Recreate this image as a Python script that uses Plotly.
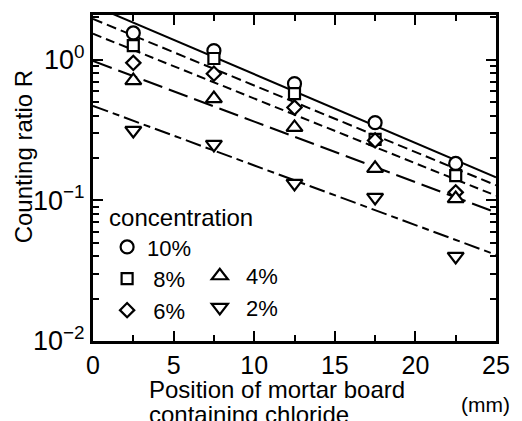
import plotly.graph_objects as go

# ---- data ----
positions = [2.5, 7.5, 12.5, 17.5, 22.5]          # mm
labels = ["10%", "\u00a08%", "\u00a06%", "\u00a04%", "\u00a02%"]
r_10 = [1.55, 1.16, 0.676, 0.357, 0.183]
r_8 = [1.26, 1.02, 0.574, 0.271, 0.150]
r_6 = [0.95, 0.796, 0.457, 0.267, 0.114]
r_4 = [0.71, 0.529, 0.330, 0.169, 0.103]
r_2 = [0.314, 0.250, 0.132, 0.105, 0.040]

# fitted lines: value at x = 0 mm and x = 25 mm
fit_x = [0, 25]
fit_10 = [2.43, 0.146]
fit_8 = [1.95, 0.128]
fit_6 = [1.53, 0.108]
fit_4 = [0.98, 0.082]
fit_2 = [0.47, 0.041]

x_ticks = [0, 5, 10, 15, 20, 25]
x_minor = [2.5, 7.5, 12.5, 17.5, 22.5]
y_ticks = [0.01, 0.1, 1]
y_ticktext = ["10<sup>\u22122</sup>", "10<sup>\u22121</sup>", "10<sup>0</sup>"]
y_minor = [m * 10 ** e for e in (-2, -1, 0) for m in range(2, 10)]

FONT = "Liberation Sans, Arial, Helvetica, sans-serif"

series = [
    (labels[0], r_10, fit_10, "circle", 13, "solid", "legend"),
    (labels[1], r_8, fit_8, "square", 11, "10px,5px", "legend"),
    (labels[2], r_6, fit_6, "diamond", 11, "9px,5px", "legend"),
    (labels[3], r_4, fit_4, "triangle-up", 14, "20px,7px", "legend2"),
    (labels[4], r_2, fit_2, "triangle-down", 14, "16px,5px,7px,5px", "legend2"),
]

fig = go.Figure()
for name, vals, fit, sym, size, dash, lg in series:
    fig.add_trace(go.Scatter(
        x=fit_x, y=fit, mode="lines", showlegend=False, hoverinfo="skip",
        line=dict(color="black", width=2, dash=dash)))
for name, vals, fit, sym, size, dash, lg in series:
    fig.add_trace(go.Scatter(
        x=positions, y=vals, mode="markers", name=name, legend=lg,
        marker=dict(symbol=sym, size=size, color="white",
                    line=dict(color="black", width=2.2))))

axis_common = dict(
    showgrid=False, zeroline=False, showline=True, linecolor="black",
    linewidth=3, mirror="ticks", ticks="inside", tickcolor="black",
    tickwidth=2, ticklen=10,
)

fig.update_xaxes(range=[0, 25], tickmode="array", tickvals=x_ticks,
                 tickfont=dict(family=FONT, size=25, color="black"),
                 minor=dict(tickmode="array", tickvals=x_minor, ticks="inside",
                            ticklen=6, tickwidth=2, tickcolor="black", showgrid=False),
                 **axis_common)
fig.update_yaxes(type="log", range=[-2, 0.318], tickmode="array",
                 tickvals=y_ticks, ticktext=y_ticktext,
                 tickfont=dict(family=FONT, size=27, color="black"),
                 minor=dict(tickmode="array", tickvals=y_minor, ticks="inside",
                            ticklen=6, tickwidth=2, tickcolor="black", showgrid=False),
                 **axis_common)

fig.update_layout(
    width=522, height=421,
    margin=dict(l=93, r=22, t=13, b=80),
    plot_bgcolor="white", paper_bgcolor="white",
    font=dict(family=FONT, color="black", size=24),
    legend=dict(x=0.035, y=0.448, xanchor="left", yanchor="top",
                bgcolor="rgba(0,0,0,0)", borderwidth=0, itemwidth=30,
                title=dict(text="concentration", font=dict(family=FONT, size=24)),
                font=dict(family=FONT, size=22), tracegroupgap=0),
    legend2=dict(x=0.265, y=0.264, xanchor="left", yanchor="top",
                 bgcolor="rgba(0,0,0,0)", borderwidth=0, itemwidth=30,
                 font=dict(family=FONT, size=22), tracegroupgap=0),
    annotations=[
        dict(text="Counting ratio R", textangle=-90, xref="paper", yref="paper",
             x=-0.172, y=0.5655, xanchor="center", yanchor="middle",
             showarrow=False, font=dict(family=FONT, size=24)),
        dict(text="Position of mortar board", xref="paper", yref="paper",
             x=0.135, y=-0.149, xanchor="left", yanchor="middle",
             showarrow=False, font=dict(family=FONT, size=24)),
        dict(text="containing chloride", xref="paper", yref="paper",
             x=0.135, y=-0.2245, xanchor="left", yanchor="middle",
             showarrow=False, font=dict(family=FONT, size=24)),
        dict(text="(mm)", xref="paper", yref="paper",
             x=0.975, y=-0.195, xanchor="center", yanchor="middle",
             showarrow=False, font=dict(family=FONT, size=21)),
    ],
)

fig.write_html("out.html")
